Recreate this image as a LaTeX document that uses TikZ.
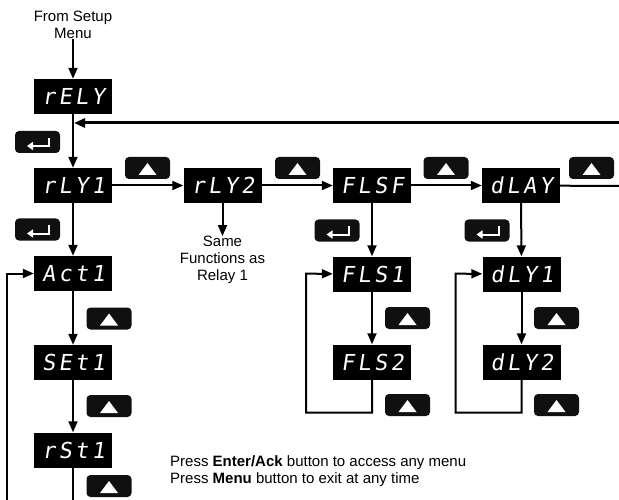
\documentclass[tikz,border=0pt]{standalone}
\usepackage{fontspec}
\setmainfont{Liberation Sans}
\newfontfamily\segfont[FakeSlant=0.15,LetterSpace=15]{DejaVu Sans Mono}
\usetikzlibrary{arrows.meta}
\definecolor{ink}{HTML}{101010}

\begin{document}
\begin{tikzpicture}[
  x=1pt,y=-1pt,
  line cap=butt,line join=miter,
  font=\fontsize{15}{17}\selectfont,
  display/.style={fill=black,text=white,minimum width=78pt,minimum height=35pt,
                  inner sep=0pt,font=\segfont\fontsize{22}{22}\selectfont},
  key/.style={fill=ink,rounded corners=4pt,minimum width=45pt,minimum height=22pt,
              inner sep=0pt},
  upkey/.style={key,path picture={
      \fill[white,sharp corners] ([yshift=5pt]path picture bounding box.center)
        -- ++(-9pt,-12pt) -- ++(18pt,0pt) -- cycle;}},
  enterkey/.style={key,path picture={
      \draw[white,sharp corners,line width=2pt,-{Triangle[length=6pt,width=8pt]}]
        ([xshift=11.5pt,yshift=4pt]path picture bounding box.center)
        -- ++(0pt,-8pt) -- ++(-22pt,0pt);}},
  label/.style={align=center,inner sep=0pt},
  arrow/.style={draw=black,line width=2pt,-{Triangle[length=11pt,width=9pt]}},
  plain/.style={draw=black,line width=2pt}
]
\useasboundingbox (0,0) rectangle (619,500);

% menu entries
\node[label] (from) at (73,25) {From Setup\\Menu};
\node[display] (rely) at (73,96.5) {\hspace{1pt}rELY};
\node[display] (rly1) at (73,185.5) {\hspace{1pt}rLY1};
\node[display] (rly2) at (222.5,185.5) {\hspace{1pt}rLY2};
\node[display] (flsf) at (372,185.5) {\hspace{1pt}FLSF};
\node[display] (dlay) at (521,185.5) {\hspace{1pt}dLAY};
\node[display] (act) at (73,273.5) {\hspace{1pt}Act1};
\node[display] (set) at (73,362.5) {\hspace{1pt}SEt1};
\node[display] (rst) at (73,450) {\hspace{1pt}rSt1};
\node[display] (fls1) at (372,274) {\hspace{1pt}FLS1};
\node[display] (fls2) at (372,362) {\hspace{1pt}FLS2};
\node[display] (dly1) at (521.5,274) {\hspace{1pt}dLY1};
\node[display] (dly2) at (521.5,362) {\hspace{1pt}dLY2};
\node[label] (same) at (222.5,260) {Same\\Functions as\\Relay 1};

% keys
\foreach \x/\y [count=\i] in {37.5/142,37.5/229.5,337/230.5,487/230.5}
  \node[enterkey] (ent\i) at (\x,\y) {};
\foreach \x/\y [count=\i] in {147.5/168,297.5/168,446/168,591.5/168,
    109/318.5,109/406,109/486,407.5/318,407.5/405,556.5/318,556.5/405}
  \node[upkey] (up\i) at (\x,\y) {};

% edge points
\coordinate (retR) at (619,123);
\coordinate (retL) at (74,123);
\coordinate (exitR) at (619,186);
\coordinate (rstB) at (73,500);
\coordinate (loopB) at (7,500);

% connectors
\draw[arrow] (from) -- (rely);
\draw[arrow] (rely) -- (rly1);
\draw[arrow,line width=3pt] (retR) -- (retL);
\draw[arrow] (rly1) -- (rly2);
\draw[arrow] (rly2) -- (flsf);
\draw[arrow] (flsf) -- (dlay);
\draw[plain] (dlay) -- (exitR);
\draw[arrow] (rly2) -- (same);
\draw[arrow] (rly1) -- (act);
\draw[arrow] (act) -- (set);
\draw[arrow] (set) -- (rst);
\draw[plain] (rst) -- (rstB);
\draw[arrow] (loopB) |- (act);
\draw[arrow] (flsf) -- (fls1);
\draw[arrow] (fls1) -- (fls2);
\draw[arrow] (fls2.south) -- ++(0,33) -| ++(-66,-139) -- (fls1);
\draw[arrow] (dlay) -- (dly1);
\draw[arrow] (dly1) -- (dly2);
\draw[arrow] (dly2.south) -- ++(0,33) -| ++(-66,-139) -- (dly1);

\node[align=left,anchor=west,inner sep=0pt] (note) at (170,471.5)
  {Press \textbf{Enter/Ack} button to access any menu\\
   Press \textbf{Menu} button to exit at any time};
\end{tikzpicture}
\end{document}
